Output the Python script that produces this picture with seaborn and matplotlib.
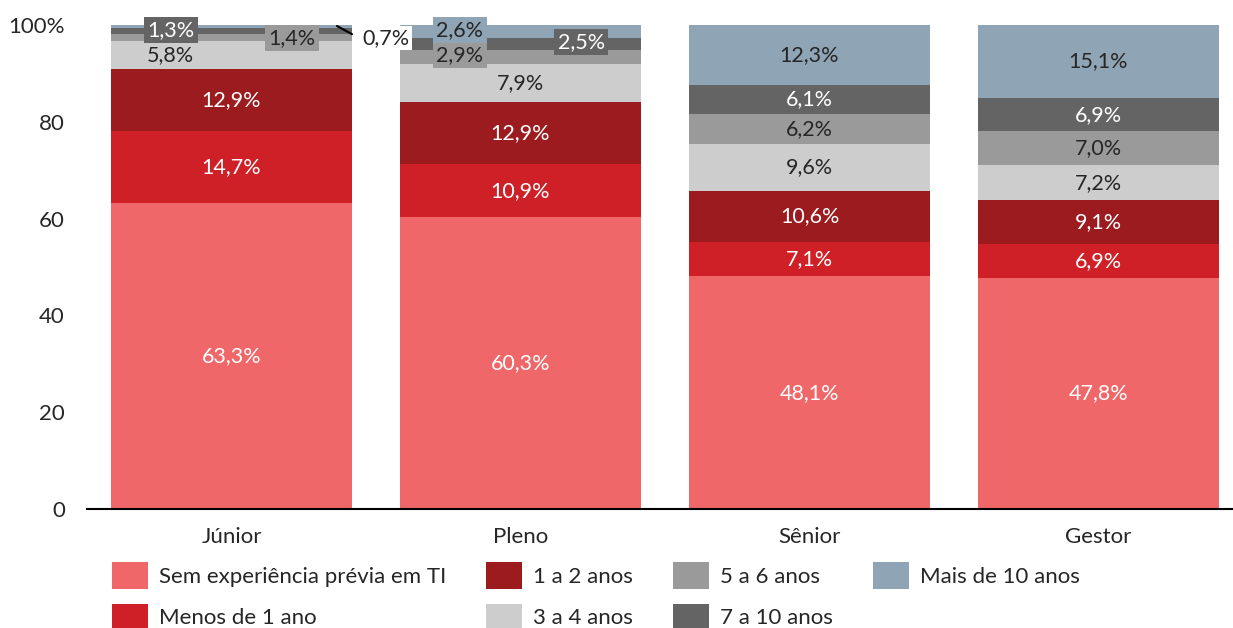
import numpy as np
import pandas as pd
import matplotlib
matplotlib.use("Agg")
import matplotlib.pyplot as plt
from matplotlib.patches import Patch
import seaborn as sns

categories = ["Júnior", "Pleno", "Sênior", "Gestor"]
series_names = ["Sem experiência prévia em TI", "Menos de 1 ano", "1 a 2 anos",
                "3 a 4 anos", "5 a 6 anos", "7 a 10 anos", "Mais de 10 anos"]
sem_exp = [63.3, 60.3, 48.1, 47.8]
menos_1 = [14.7, 10.9, 7.1, 6.9]
um_dois = [12.9, 12.9, 10.6, 9.1]
tres_quatro = [5.8, 7.9, 9.6, 7.2]
cinco_seis = [1.4, 2.9, 6.2, 7.0]
sete_dez = [1.3, 2.5, 6.1, 6.9]
mais_dez = [0.7, 2.6, 12.3, 15.1]
yticks = [0, 20, 40, 60, 80, 100]
ytick_labels = ["0", "20", "40", "60", "80", "100%"]

series = [sem_exp, menos_1, um_dois, tres_quatro, cinco_seis, sete_dez, mais_dez]
colors = ["#F06769", "#D02027", "#9B1B1F", "#CDCDCD", "#9A9A9A", "#646464", "#8FA4B4"]
text_colors = ["white", "white", "white", "#262626", "#262626", "white", "#262626"]

sns.set_theme(style="white")
plt.rcParams["font.family"] = ["Lato", "DejaVu Sans"]
FS = 16
LFS = 15.5

fig = plt.figure(figsize=(12.33, 6.28), dpi=100)
ax = fig.add_axes([87/1233, 119/628, 1156/1233, 484/628])

data = np.array(series)
cum = np.cumsum(data, axis=0)
bottoms = cum - data

df = pd.DataFrame({"cat": categories})
for i in reversed(range(len(series))):
    df["top"] = cum[i]
    sns.barplot(data=df, x="cat", y="top", color=colors[i], width=0.834,
                saturation=1, ax=ax, linewidth=0, errorbar=None)

ax.set_ylim(0, 100)
ax.set_xlim(-0.5, 3.5)
ax.set_yticks(yticks)
ax.set_yticklabels(ytick_labels, fontsize=FS, color="#262626")
ax.tick_params(axis="x", labelsize=FS, colors="#262626", length=0, pad=13)
ax.tick_params(axis="y", length=0, pad=16)
ax.set_xlabel("")
ax.set_ylabel("")
for s in ["top", "right", "left"]:
    ax.spines[s].set_visible(False)
ax.spines["bottom"].set_color("black")
ax.spines["bottom"].set_linewidth(1.5)

def fmt(v):
    return f"{v:.1f}%".replace(".", ",")

# label offsets (x offset in category units, y override, boxed) for small segments
special = {
    (0, 3): (-0.21, None, False),
    (0, 4): (0.21, 97.3, True),
    (0, 5): (-0.21, 99.0, True),
    (1, 4): (-0.21, 93.8, True),
    (1, 5): (0.21, 96.5, True),
    (1, 6): (-0.21, 99.0, True),
}

for j in range(len(categories)):
    for i in range(len(series)):
        v = data[i, j]
        xo, yo, boxed = 0.0, None, False
        if (j, i) in special:
            xo, yo, boxed = special[(j, i)]
        y = bottoms[i, j] + v / 2 if yo is None else yo
        kw = {}
        if boxed:
            kw["bbox"] = dict(boxstyle="square,pad=0.15", fc=colors[i], ec="none")
        if j == 0 and i == 6:
            ax.text(j + 0.535, 97.3, fmt(v), ha="center", va="center", fontsize=LFS,
                    color="#262626", bbox=dict(boxstyle="square,pad=0.1", fc="white", ec="none"))
            ax.plot([j + 0.365, j + 0.417], [99.8, 98.1], color="black", lw=1.5, clip_on=False)
            continue
        ax.text(j + xo, y, fmt(v), ha="center", va="center", fontsize=LFS,
                color=text_colors[i], **kw)

handles = [Patch(facecolor=c, edgecolor="none") for c in colors]
fig.legend(handles, series_names, loc="upper left", bbox_to_anchor=(112/1233, 1 - 562/628),
           ncol=4, frameon=False, fontsize=FS, handlelength=1.62, handleheight=1.5,
           handletextpad=0.5, columnspacing=1.8, labelspacing=0.65, borderaxespad=0,
           borderpad=0, labelcolor="#262626")

fig.savefig("out.png", dpi=100)
